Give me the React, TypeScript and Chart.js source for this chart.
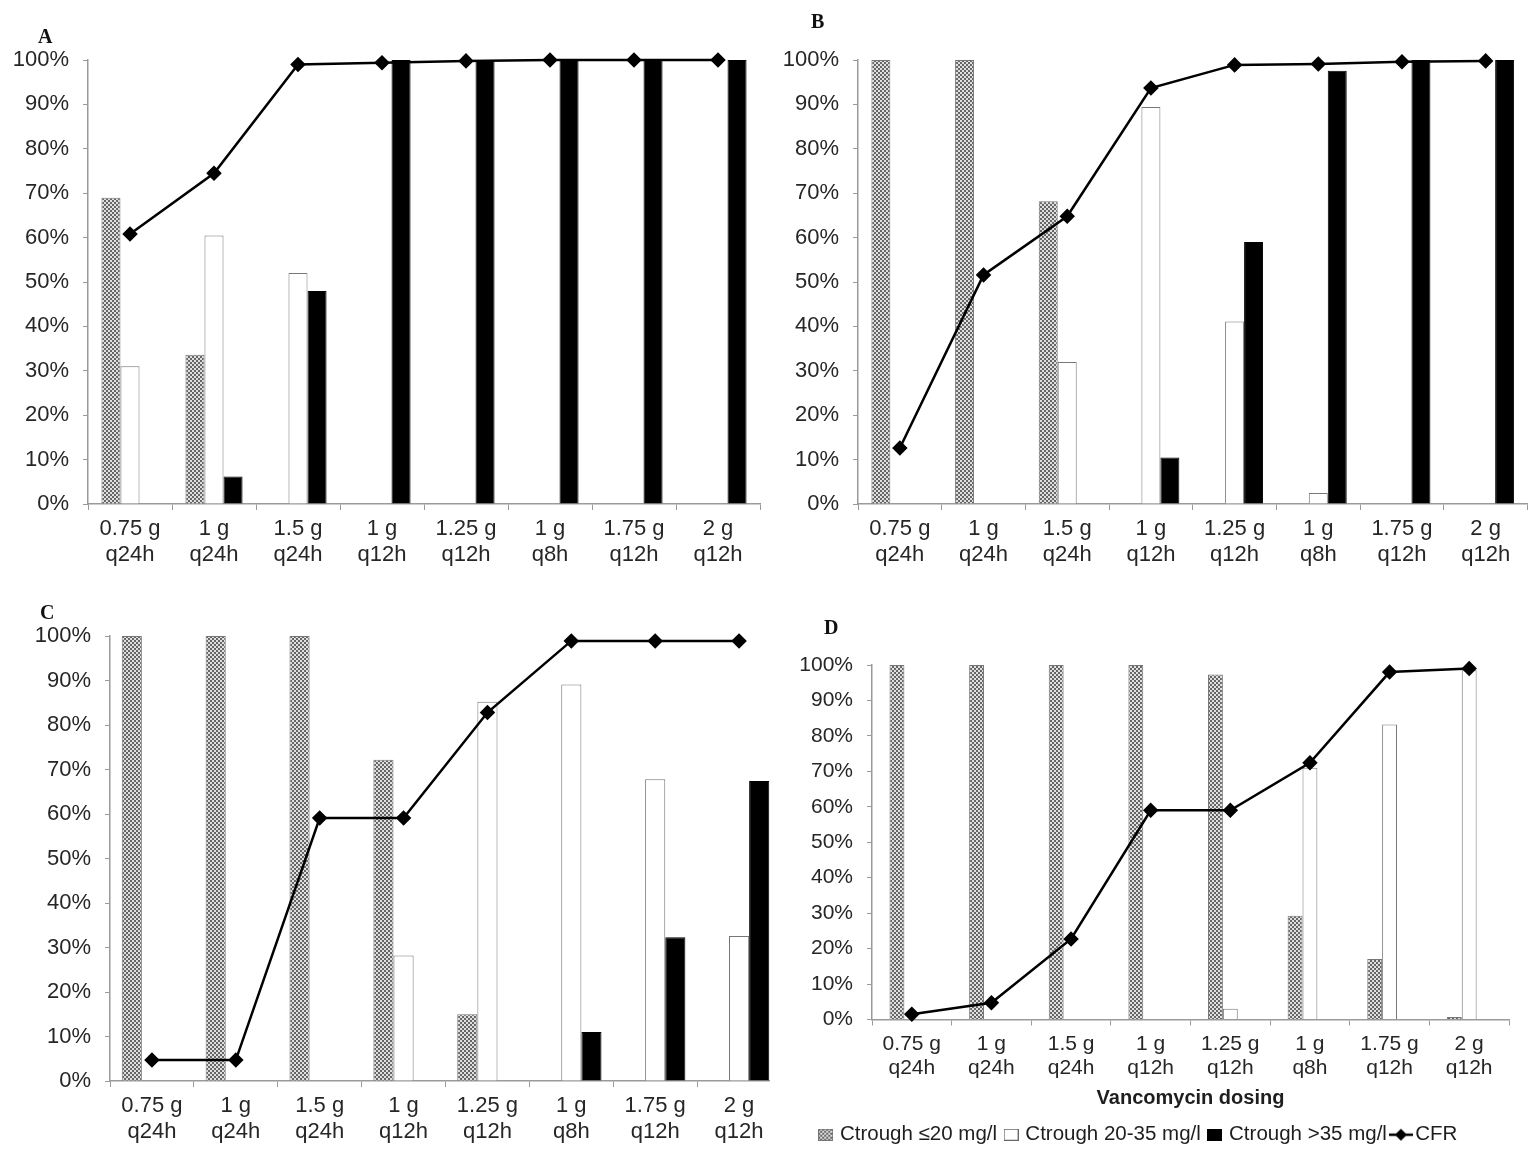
import { useEffect, useRef } from "react";
import { Chart, registerables } from "chart.js";

Chart.register(...registerables);

// x-axis categories (vancomycin dosing regimens)
const doses: string[][] = [
  ["0.75 g", "q24h"],
  ["1 g", "q24h"],
  ["1.5 g", "q24h"],
  ["1 g", "q12h"],
  ["1.25 g", "q12h"],
  ["1 g", "q8h"],
  ["1.75 g", "q12h"],
  ["2 g", "q12h"],
];

const seriesNames = ["Ctrough \u226420 mg/l", "Ctrough 20-35 mg/l", "Ctrough >35 mg/l", "CFR"];

// panel A
const lowA = [69, 33.6, 0, 0, 0, 0, 0, 0];
const midA = [31, 60.5, 52, 0, 0, 0, 0, 0];
const highA = [0, 6.2, 48, 100, 100, 100, 100, 100];
const cfrA = [60.8, 74.5, 99, 99.4, 99.8, 100, 100, 100];

// panel B
const lowB = [100, 100, 68.2, 0, 0, 0, 0, 0];
const midB = [0, 0, 32, 89.4, 41.1, 2.5, 0, 0];
const highB = [0, 0, 0, 10.5, 59, 97.6, 100, 100];
const cfrB = [12.6, 51.6, 64.8, 93.7, 98.9, 99.1, 99.6, 99.8];

// panel C
const lowC = [100, 100, 100, 72.2, 15, 0, 0, 0];
const midC = [0, 0, 0, 28.2, 85.2, 89.1, 67.8, 32.6];
const highC = [0, 0, 0, 0, 0, 11, 32.3, 67.4];
const cfrC = [4.7, 4.7, 59.1, 59.1, 82.8, 98.9, 98.9, 98.9];

// panel D
const lowD = [100, 100, 100, 100, 97.3, 29.3, 17.1, 0.7];
const midD = [0, 0, 0, 0, 3, 71, 83.2, 98.5];
const highD = [0, 0, 0, 0, 0, 0, 0, 0];
const cfrD = [1.5, 4.7, 22.7, 59, 59, 72.4, 98, 99];

const FONT = "'Liberation Sans', Arial, Helvetica, sans-serif";
const TEXT = "#262626";
const AXIS = "#9a9a9a";

function makeHatch(): CanvasPattern | string {
  const c = document.createElement("canvas");
  c.width = 4;
  c.height = 4;
  const ctx = c.getContext("2d");
  if (!ctx) return "#aaaaaa";
  ctx.fillStyle = "#e0e0e0";
  ctx.fillRect(0, 0, 4, 4);
  ctx.fillStyle = "#666666";
  ctx.fillRect(0, 0, 2, 2);
  ctx.fillRect(2, 2, 2, 2);
  const p = ctx.createPattern(c, "repeat");
  return p || "#aaaaaa";
}

// little legend symbols
function legendBox(kind: "hatch" | "white" | "black"): HTMLCanvasElement {
  const c = document.createElement("canvas");
  c.width = 15;
  c.height = 12;
  const ctx = c.getContext("2d")!;
  if (kind === "hatch") {
    ctx.fillStyle = makeHatch() as any;
    ctx.fillRect(0, 0, 15, 12);
    ctx.strokeStyle = "#777";
  } else if (kind === "white") {
    ctx.fillStyle = "#fff";
    ctx.fillRect(0, 0, 15, 12);
    ctx.strokeStyle = "#666";
  } else {
    ctx.fillStyle = "#000";
    ctx.fillRect(0, 0, 15, 12);
    ctx.strokeStyle = "#000";
  }
  ctx.lineWidth = 1;
  ctx.strokeRect(0.5, 0.5, 14, 11);
  return c;
}

function legendLine(): HTMLCanvasElement {
  const c = document.createElement("canvas");
  c.width = 24;
  c.height = 14;
  const ctx = c.getContext("2d")!;
  ctx.strokeStyle = "#000";
  ctx.lineWidth = 2.5;
  ctx.beginPath();
  ctx.moveTo(0, 7);
  ctx.lineTo(24, 7);
  ctx.stroke();
  ctx.fillStyle = "#000";
  ctx.beginPath();
  ctx.moveTo(12, 1);
  ctx.lineTo(18, 7);
  ctx.lineTo(12, 13);
  ctx.lineTo(6, 7);
  ctx.closePath();
  ctx.fill();
  return c;
}

type PanelProps = {
  letter: string;
  low: number[];
  mid: number[];
  high: number[];
  cfr: number[];
  left: number;
  top: number;
  width: number;
  height: number;
  viewWidth: number;
  area: { left: number; top: number; right: number; bottom: number };
  barPct: number;
  fontSize: number;
  letterLeft: number;
  letterTop: number;
  showLegend?: boolean;
};

function Panel(p: PanelProps) {
  const canvasRef = useRef<HTMLCanvasElement | null>(null);

  useEffect(() => {
    if (!canvasRef.current) return;
    const hatch = makeHatch();
    const xHeight = p.showLegend ? 95 : p.height - p.area.bottom;

    const chart = new Chart(canvasRef.current, {
      type: "bar",
      data: {
        labels: doses,
        datasets: [
          {
            type: "line",
            label: seriesNames[3],
            data: p.cfr,
            borderColor: "#000",
            borderWidth: 2.5,
            pointStyle: "rectRot",
            pointRadius: 6,
            pointBackgroundColor: "#000",
            pointBorderColor: "#000",
            tension: 0,
            clip: false,
            order: 0,
          } as any,
          {
            label: seriesNames[0],
            data: p.low,
            backgroundColor: hatch as any,
            borderColor: "#777777",
            borderWidth: 1,
            order: 1,
          },
          {
            label: seriesNames[1],
            data: p.mid,
            backgroundColor: "#ffffff",
            borderColor: "#777777",
            borderWidth: 1,
            order: 1,
          },
          {
            label: seriesNames[2],
            data: p.high,
            backgroundColor: "#000000",
            borderColor: "#000000",
            borderWidth: 1,
            order: 1,
          },
        ],
      },
      options: {
        animation: false,
        responsive: false,
        devicePixelRatio: 1,
        datasets: {
          bar: { categoryPercentage: p.barPct, barPercentage: 1 },
        },
        layout: {
          padding: {
            top: p.area.top,
            left: 0,
            right: p.width - p.area.right,
            bottom: p.showLegend ? 2 : 0,
          },
        },
        scales: {
          x: {
            afterFit: (s: any) => {
              s.height = xHeight;
            },
            grid: {
              display: true,
              offset: true,
              drawOnChartArea: false,
              tickLength: 6,
              color: AXIS,
            },
            border: { color: AXIS, width: 1.5 },
            ticks: {
              color: TEXT,
              padding: 6,
              maxRotation: 0,
              autoSkip: false,
              font: { family: FONT, size: p.fontSize, lineHeight: 1.18 },
            },
            title: {
              display: !!p.showLegend,
              text: "Vancomycin dosing",
              color: "#1e1e1e",
              padding: { top: 2, bottom: 4 },
              font: { family: FONT, size: 20, weight: "bold", lineHeight: 1.2 },
            },
          },
          y: {
            min: 0,
            max: 100,
            afterFit: (s: any) => {
              s.width = p.area.left;
            },
            grid: {
              display: true,
              drawOnChartArea: false,
              tickLength: 5,
              color: AXIS,
            },
            border: { color: AXIS, width: 1.5 },
            ticks: {
              stepSize: 10,
              color: TEXT,
              padding: 14,
              callback: (v: any) => v + "%",
              font: { family: FONT, size: p.fontSize },
            },
          },
        },
        plugins: {
          tooltip: { enabled: false },
          legend: {
            display: !!p.showLegend,
            position: "bottom",
            labels: {
              usePointStyle: true,
              pointStyleWidth: 8,
              padding: 10,
              color: "#1e1e1e",
              font: { family: FONT, size: 20.5 },
              generateLabels: () => [
                { text: seriesNames[0], pointStyle: legendBox("hatch"), datasetIndex: 1, fontColor: "#1e1e1e", lineWidth: 0 },
                { text: seriesNames[1], pointStyle: legendBox("white"), datasetIndex: 2, fontColor: "#1e1e1e", lineWidth: 0 },
                { text: seriesNames[2], pointStyle: legendBox("black"), datasetIndex: 3, fontColor: "#1e1e1e", lineWidth: 0 },
                { text: seriesNames[3], pointStyle: legendLine(), datasetIndex: 0, fontColor: "#1e1e1e", lineWidth: 0 },
              ] as any,
            },
          },
        },
      },
    });

    return () => {
      chart.destroy();
    };
  }, []);

  return (
    <>
      <div
        style={{
          position: "absolute",
          left: p.left,
          top: p.top,
          width: p.viewWidth,
          height: p.height,
          overflow: "hidden",
        }}
      >
        <canvas ref={canvasRef} width={p.width} height={p.height} style={{ width: p.width, height: p.height }}></canvas>
      </div>
      <div
        style={{
          position: "absolute",
          left: p.letterLeft,
          top: p.letterTop,
          fontFamily: "'Liberation Serif', 'Times New Roman', serif",
          fontWeight: "bold",
          fontSize: 20,
          lineHeight: 1,
          color: "#111",
        }}
      >
        {p.letter}
      </div>
    </>
  );
}

export default function App() {
  useEffect(() => {
    document.body.style.margin = "0";
    document.body.style.background = "#fff";
  }, []);

  return (
    <div style={{ position: "relative", width: 1536, height: 1157, background: "#fff", overflow: "hidden" }}>
      <Panel
        letter="A"
        low={lowA}
        mid={midA}
        high={highA}
        cfr={cfrA}
        left={0}
        top={0}
        width={770}
        viewWidth={770}
        height={590}
        area={{ left: 88, top: 60, right: 760, bottom: 504 }}
        barPct={0.68}
        fontSize={22}
        letterLeft={38}
        letterTop={26}
      />
      <Panel
        letter="B"
        low={lowB}
        mid={midB}
        high={highB}
        cfr={cfrB}
        left={770}
        top={0}
        width={766}
        viewWidth={766}
        height={590}
        area={{ left: 88, top: 60, right: 760, bottom: 504 }}
        barPct={0.68}
        fontSize={22}
        letterLeft={811}
        letterTop={11}
      />
      <Panel
        letter="C"
        low={lowC}
        mid={midC}
        high={highC}
        cfr={cfrC}
        left={0}
        top={590}
        width={800}
        viewWidth={770}
        height={567}
        area={{ left: 110, top: 46, right: 781, bottom: 491 }}
        barPct={0.72}
        fontSize={22}
        letterLeft={40}
        letterTop={602}
      />
      <Panel
        letter="D"
        low={lowD}
        mid={midD}
        high={highD}
        cfr={cfrD}
        left={770}
        top={600}
        width={766}
        viewWidth={766}
        height={557}
        area={{ left: 102, top: 65, right: 739, bottom: 419 }}
        barPct={0.56}
        fontSize={21}
        letterLeft={824}
        letterTop={617}
        showLegend
      />
    </div>
  );
}
